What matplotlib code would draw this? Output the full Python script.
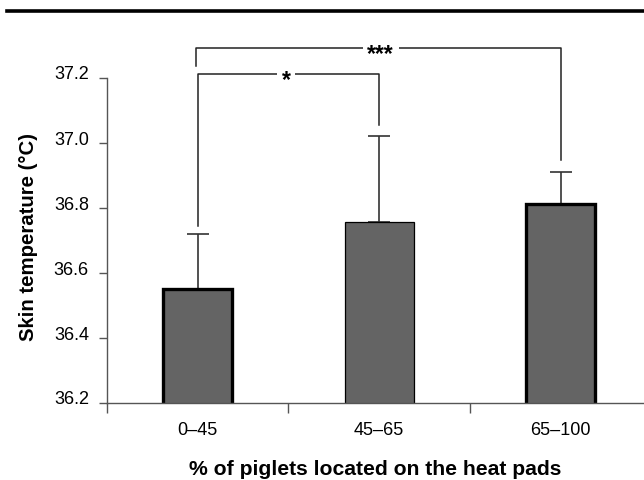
import matplotlib
matplotlib.use("Agg")
import matplotlib.pyplot as plt
import matplotlib.transforms as mtransforms
from matplotlib.lines import Line2D

plt.rcParams['font.family'] = ['Liberation Sans', 'DejaVu Sans']

groups = ["0\u201345", "45\u201365", "65\u2013100"]
means = [36.55, 36.757, 36.812]
sds = [0.17, 0.265, 0.10]
edge_widths = [2.4, 0.9, 2.4]

# significance brackets: (left x, right x, label, label x, bar height, left drop, right drop)
brackets = [
    (0.0, 1.0, "*", 0.488, 37.212, 36.745, 37.055),
    (-0.01, 2.0, "***", 1.009, 37.292, 37.237, 36.948),
]

fig = plt.figure(figsize=(6.44, 4.81), dpi=100)
ax = fig.add_axes([107 / 644, 1 - 404 / 481, 537 / 644, 325 / 481])

x = list(range(len(groups)))
ax.bar(x, means, width=0.38, bottom=0, color="#646464",
       edgecolor="black", linewidth=edge_widths, zorder=2)
ax.errorbar(x, means, yerr=[[0, 0, 0], sds], fmt="none", ecolor="#333333",
            elinewidth=1.2, capsize=8, capthick=1.2, zorder=1)

ax.set_xlim(-0.5, 2.46)
ax.set_ylim(36.2, 37.2)

for xl, xr, label, xt, top, drop_l, drop_r in brackets:
    ax.plot([xl, xl, xr, xr], [drop_l, top, top, drop_r],
            color="#222222", lw=1.1, clip_on=False, zorder=3)
    ax.annotate(label, xy=(xt, top), xytext=(0, -8.4),
                textcoords="offset points", ha="center", va="baseline",
                fontsize=16.5, fontweight="bold",
                bbox=dict(facecolor="white", edgecolor="none", pad=3.5),
                zorder=4, annotation_clip=False)

for side in ["top", "right"]:
    ax.spines[side].set_visible(False)
for side in ["left", "bottom"]:
    ax.spines[side].set_color("#555555")
    ax.spines[side].set_linewidth(1.0)

ax.set_yticks([36.2, 36.4, 36.6, 36.8, 37.0, 37.2])
ax.set_yticklabels(["36.2", "36.4", "36.6", "36.8", "37.0", "37.2"])
ax.tick_params(axis="y", length=6, width=1, color="#555555", pad=7,
               labelsize=13)
shift = mtransforms.ScaledTranslation(0, 0.06, fig.dpi_scale_trans)
for lbl in ax.get_yticklabels():
    lbl.set_transform(lbl.get_transform() + shift)

ax.set_xticks(x)
ax.set_xticklabels(groups)
ax.set_xticks([-0.5, 0.5, 1.5], minor=True)
ax.tick_params(axis="x", which="major", length=0, pad=13, labelsize=13)
ax.tick_params(axis="x", which="minor", length=7, width=1, color="#555555",
               direction="out")

ax.set_ylabel("Skin temperature (\u00b0C)", fontsize=14.7, fontweight="bold")
ax.yaxis.set_label_coords(-0.128, 0.514)
ax.set_xlabel("% of piglets located on the heat pads", fontsize=15.2,
              fontweight="bold")
ax.xaxis.set_label_coords(0.5, -0.172)

fig.add_artist(Line2D([7 / 644, 1.0], [1 - 12 / 481, 1 - 12 / 481],
                      color="black", lw=2.6))

fig.savefig("out.png", dpi=100)
